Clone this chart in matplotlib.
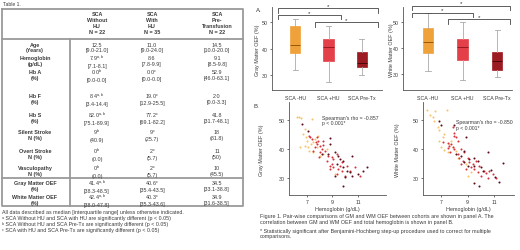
import matplotlib
matplotlib.use("Agg")
import matplotlib.pyplot as plt

plt.rcParams["font.family"] = ["Liberation Sans", "DejaVu Sans"]
plt.rcParams["mathtext.fontset"] = "custom"
plt.rcParams["mathtext.rm"] = "Liberation Sans"

W, H = 520, 251
INK = "#3a3a3a"
GRID = "#9a9a9a"
C_NOHU = "#f0a23a"; C_HU = "#e3404a"; C_PRE = "#9c1b22"
S_NOHU = "#f5c46a"; S_HU = "#d8343c"; S_PRE = "#5e0d1c"

# ---- table data ----
groups = ["SCA\nWithout\nHU\nN = 22", "SCA\nWith\nHU\nN = 35", "SCA\nPre-\nTransfusion\nN = 22"]
row_labels = ["Age\n(Years)", "Hemoglobin\n(g/dL)", "Hb A\n(%)", "Hb F\n(%)", "Hb S\n(%)",
              "Silent Stroke\nN (%)", "Overt Stroke\nN (%)", "Vasculopathy\nN (%)",
              "Gray Matter OEF\n(%)", "White Matter OEF\n(%)"]
col_nohu = ["12.5\n[9.0-21.0]", "7.9$^{\\mathrm{a,b}}$\n[7.1-8.1]", "0.0$^{\\mathrm{b}}$\n[0.0-0.0]",
            "8.4$^{\\mathrm{a,b}}$\n[3.4-14.4]", "82.0$^{\\mathrm{a,b}}$\n[75.1-89.9]",
            "9$^{\\mathrm{b}}$\n(40.9)", "0$^{\\mathrm{b}}$\n(0.0)", "0$^{\\mathrm{b}}$\n(0.0)",
            "41.4$^{\\mathrm{a,b}}$\n[38.3-48.5]", "42.4$^{\\mathrm{a,b}}$\n[38.0-47.8]"]
col_hu = ["11.0\n[9.0-24.0]", "8.6\n[7.8-9.9]", "0.0$^{\\mathrm{c}}$\n[0.0-0.0]",
          "19.0$^{\\mathrm{c}}$\n[12.9-25.5]", "77.2$^{\\mathrm{c}}$\n[69.1-82.2]",
          "9$^{\\mathrm{c}}$\n(25.7)", "2$^{\\mathrm{c}}$\n(5.7)", "2$^{\\mathrm{c}}$\n(5.7)",
          "40.6$^{\\mathrm{c}}$\n[35.4-43.5]", "40.3$^{\\mathrm{c}}$\n[35.3-43.6]"]
col_pre = ["14.5\n[10.0-20.0]", "9.1\n[8.5-9.8]", "52.9\n[46.0-63.1]", "2.0\n[0.0-3.3]",
           "41.8\n[31.7-48.1]", "18\n(81.8)", "11\n(50)", "10\n(45.5)",
           "34.5\n[33.1-38.8]", "34.9\n[31.6-38.5]"]
footnotes = ["All data described as median [interquartile range] unless otherwise indicated.",
             "\u1d43 SCA Without HU and SCA with HU are significantly different (p < 0.05)",
             "\u1d47 SCA Without HU and SCA Pre-Tx are significantly different (p < 0.05)",
             "\u1d9c SCA with HU and SCA Pre-Tx are significantly different (p < 0.05)"]

# ---- boxplot data (median, IQR from table; whiskers) ----
box_names = ["SCA -HU", "SCA +HU", "SCA Pre-Tx"]
gm_med = [41.4, 40.6, 34.5]; gm_q1 = [38.3, 35.4, 33.1]; gm_q3 = [48.5, 43.5, 38.8]
gm_lo = [32.0, 27.5, 30.0]; gm_hi = [51.2, 48.6, 43.6]
wm_med = [42.4, 40.3, 34.9]; wm_q1 = [38.0, 35.3, 31.6]; wm_q3 = [47.8, 43.6, 38.5]
wm_lo = [31.0, 27.5, 29.0]; wm_hi = [53.4, 50.0, 47.0]

# ---- scatter data (hemoglobin g/dL, OEF %) ----
gm_nohu_hb = [6.19, 6.40, 6.50, 7.37, 6.84, 6.92, 6.97, 7.10, 7.18, 7.44, 7.76, 8.02, 6.84, 9.20,
              8.28, 7.89, 7.50, 6.71, 7.63, 7.29, 8.54, 6.45]
gm_nohu_oef = [50.8, 51.0, 50.6, 50.2, 46.8, 44.0, 42.8, 40.6, 39.4, 38.9, 40.6, 37.7, 41.1, 31.5,
               38.3, 44.5, 42.3, 45.1, 43.4, 41.7, 40.0, 40.6]
gm_hu_hb = [7.24, 7.37, 7.76, 7.89, 7.81, 8.02, 7.63, 8.15, 7.50, 7.97, 8.54, 8.80, 8.93, 9.59,
            9.72, 8.80, 9.07, 7.71, 8.28, 8.41, 8.67, 9.07, 9.33, 9.46, 10.11, 10.37, 10.76,
            11.16, 9.98, 9.33, 8.28, 7.18, 8.02, 8.93, 9.72]
gm_hu_oef = [44.0, 43.4, 44.0, 42.8, 41.7, 41.1, 40.6, 40.0, 39.4, 37.2, 36.0, 33.2, 34.9, 34.3,
             32.6, 34.3, 33.8, 42.3, 41.5, 39.4, 37.7, 36.6, 38.3, 33.2, 34.3, 32.6, 33.8,
             30.9, 30.9, 31.5, 42.8, 44.5, 38.9, 37.2, 35.5]
gm_pre_hb = [6.58, 7.10, 8.80, 8.80, 8.15, 8.67, 9.20, 9.46, 9.85, 10.50, 9.33, 9.85, 10.11,
             10.37, 10.50, 11.03, 11.42, 11.73, 9.98, 9.85, 9.20, 9.59]
gm_pre_oef = [48.5, 46.0, 43.8, 41.7, 38.3, 38.3, 38.9, 37.7, 36.0, 37.7, 34.9, 33.8, 32.6,
              32.0, 30.9, 31.5, 32.4, 34.0, 30.3, 27.5, 30.9, 36.6]

wm_nohu_hb = [5.94, 6.55, 7.45, 6.19, 6.37, 6.75, 6.87, 7.13, 7.00, 7.25, 7.63, 7.75, 8.13, 8.89,
              9.01, 7.50, 7.88, 6.87, 6.50, 8.26, 7.25, 9.26]
wm_nohu_oef = [53.4, 53.2, 53.4, 51.8, 51.1, 47.5, 46.6, 44.0, 40.6, 39.7, 41.7, 42.9, 39.4, 34.8,
               30.8, 38.9, 40.6, 42.9, 49.8, 37.1, 45.2, 32.0]
wm_hu_hb = [7.13, 7.50, 7.63, 7.75, 7.55, 7.88, 8.01, 7.70, 8.26, 8.13, 8.01, 7.88, 8.38, 8.64,
            8.76, 9.14, 9.39, 9.52, 9.77, 10.02, 10.52, 10.90, 10.27, 9.64, 8.51, 8.89, 8.26,
            7.96, 8.51, 9.01, 9.26, 9.89, 10.40, 10.65, 11.15]
wm_hu_oef = [42.3, 42.0, 41.1, 41.7, 40.3, 40.8, 40.0, 38.9, 38.3, 44.0, 45.7, 47.5, 37.1, 36.0,
             38.9, 35.4, 34.8, 33.1, 32.0, 30.8, 30.2, 31.4, 32.5, 36.0, 34.8, 33.1, 42.9,
             44.6, 40.0, 37.1, 33.7, 34.3, 31.6, 32.3, 30.2]
wm_pre_hb = [6.87, 7.00, 8.01, 8.89, 8.13, 8.51, 8.76, 9.14, 9.52, 9.77, 10.52, 9.01, 9.52,
             10.02, 10.14, 10.77, 11.03, 11.40, 11.65, 9.52, 9.89, 8.76]
wm_pre_oef = [49.8, 48.4, 48.4, 44.3, 38.3, 37.7, 39.4, 36.6, 37.1, 36.0, 38.9, 34.3, 34.3,
              33.7, 32.3, 32.8, 30.5, 28.7, 35.1, 28.5, 27.4, 35.4]

FS = 3.9   # body text size


def px_axes(fig, x0, y0, x1, y1):
    return fig.add_axes([x0 / W, 1 - y1 / H, (x1 - x0) / W, (y1 - y0) / H])


def style_axes(ax):
    for s in ("top", "right"):
        ax.spines[s].set_visible(False)
    for s in ("left", "bottom"):
        ax.spines[s].set_color("#555555")
        ax.spines[s].set_linewidth(0.6)
    ax.tick_params(labelsize=3.8, colors=INK, length=1.5, width=0.5, pad=1.2)


def boxpanel(ax, med, q1, q3, lo, hi, ylim, xlim, brackets):
    colors = [C_NOHU, C_HU, C_PRE]
    meds = ["#8a4a00", "#8a1218", "#3a0508"]
    stats = [dict(med=m, q1=a, q3=b, whislo=l, whishi=h, fliers=[])
             for m, a, b, l, h in zip(med, q1, q3, lo, hi)]
    bp = ax.bxp(stats, positions=[1, 2, 3], widths=0.3, patch_artist=True, showfliers=False,
                whiskerprops=dict(color="#aaaaaa", lw=0.6), capprops=dict(color="#aaaaaa", lw=0.6),
                capwidths=0.15)
    for patch, c in zip(bp["boxes"], colors):
        patch.set_facecolor(c)
        patch.set_edgecolor(c)
        patch.set_linewidth(0.5)
    for ln, c in zip(bp["medians"], meds):
        ln.set_color(c)
        ln.set_linewidth(0.6)
    style_axes(ax)
    ax.set_ylim(*ylim)
    ax.set_xlim(*xlim)
    ax.set_yticks([30, 40, 50])
    ax.set_xticks([1, 2, 3], box_names)
    ax.tick_params(axis="x", length=0, pad=3.5, labelsize=3.8)
    for xa, xb, yb, drop in brackets:
        ax.plot([xa, xa, xb, xb], [yb - drop, yb, yb, yb - drop], color="#444444", lw=0.6,
                clip_on=False)
        ax.text((xa + xb) / 2, yb + 0.1, "*", ha="center", va="bottom", fontsize=4.5,
                color="#333333", clip_on=False)


def scatpanel(ax, pts, xlim, ylim, rho, tx, ty):
    for hb, oef, c in pts:
        ax.scatter(hb, oef, s=2.2, color=c, linewidths=0)
    style_axes(ax)
    ax.set_xlim(*xlim)
    ax.set_ylim(*ylim)
    ax.set_xticks([7, 9, 11])
    ax.set_yticks([30, 40, 50])
    ax.set_xlabel("Hemoglobin (g/dL)", fontsize=3.9, color=INK, labelpad=1.5)
    ax.text(tx, ty, f"Spearman's rho = {rho}\np < 0.001*", fontsize=3.7, color=INK,
            va="top", ha="left", linespacing=1.05)


fig = plt.figure(figsize=(W / 100, H / 100), dpi=100)
fig.patch.set_facecolor("white")

# ---- table overlay in pixel coordinates ----
tb = fig.add_axes([0, 0, 1, 1])
tb.set_xlim(0, W)
tb.set_ylim(H, 0)
tb.set_axis_off()
tb.text(3, 5, "Table 1.", fontsize=3.6, color=INK, va="center")
lw = 1.3
tb.plot([2, 243, 243, 2, 2], [10, 10, 207, 207, 10], color=GRID, lw=lw)
tb.plot([2, 243], [40, 40], color=GRID, lw=lw)
tb.plot([2, 243], [179, 179], color=GRID, lw=lw)
tb.plot([70, 70], [40, 207], color=GRID, lw=lw)

col_x = [97, 152, 217]
for cx, g in zip(col_x, groups):
    tb.text(cx, 24, g, fontsize=FS, fontweight="bold", color=INK, ha="center", va="center",
            linespacing=1.25)
row_y = [48, 61.5, 75.5, 99.5, 118.5, 135.5, 154.5, 171.5, 186.5, 200.5]
for y, lab, a, b, c in zip(row_y, row_labels, col_nohu, col_hu, col_pre):
    tb.text(35, y, lab, fontsize=FS, fontweight="bold", color=INK, ha="center", va="center",
            linespacing=1.15)
    for cx, v in zip(col_x, (a, b, c)):
        tb.text(cx, y, v, fontsize=FS, color=INK, ha="center", va="center", linespacing=1.15)
for i, t in enumerate(footnotes):
    tb.text(2, 213 + i * 5.7, t, fontsize=3.8, color=INK, va="center")

# ---- panel labels and captions ----
tb.text(256, 10, "A.", fontsize=4.3, color=INK, va="center")
tb.text(254, 107, "B.", fontsize=4.3, color=INK, va="center")
tb.text(260, 217, "Figure 1. Pair-wise comparisons of GM and WM OEF between cohorts are shown in panel A. The",
        fontsize=3.85, color=INK, va="center")
tb.text(260, 223, "correlation between GM and WM OEF and total hemoglobin is shown in panel B.",
        fontsize=3.85, color=INK, va="center")
tb.text(260, 231.5, "* Statistically significant after Benjamini-Hochberg step-up procedure used to correct for multiple",
        fontsize=3.85, color=INK, va="center")
tb.text(260, 237, "comparisons.", fontsize=3.85, color=INK, va="center")

# ---- boxplots ----
ax1 = px_axes(fig, 272, 8, 382, 91)
boxpanel(ax1, gm_med, gm_q1, gm_q3, gm_lo, gm_hi, (24.3, 55.7), (0.31, 3.6),
         [(0.49, 3.48, 55.2, 1.8), (0.49, 2.37, 52.6, 1.5), (1.6, 3.48, 50.0, 1.9)])
ax2 = px_axes(fig, 403, 8, 512, 91)
boxpanel(ax2, wm_med, wm_q1, wm_q3, wm_lo, wm_hi, (23.8, 55.8), (0.28, 3.43),
         [(0.54, 3.38, 56.3, 1.7), (0.54, 2.3, 53.6, 1.5), (1.58, 3.38, 51.0, 1.6)])
fig.text(257 / W, 1 - 50 / H, "Gray Matter OEF (%)", rotation=90, fontsize=3.9, color=INK,
         ha="center", va="center")
fig.text(391 / W, 1 - 50 / H, "White Matter OEF (%)", rotation=90, fontsize=3.9, color=INK,
         ha="center", va="center")

# ---- scatters ----
ax3 = px_axes(fig, 289, 103, 386, 196)
scatpanel(ax3, [(gm_nohu_hb, gm_nohu_oef, S_NOHU), (gm_hu_hb, gm_hu_oef, S_HU),
                (gm_pre_hb, gm_pre_oef, S_PRE)], (5.59, 13.2), (24.3, 56.0), "-0.857", 8.2, 51.6)
ax4 = px_axes(fig, 423, 103, 514, 196)
scatpanel(ax4, [(wm_nohu_hb, wm_nohu_oef, S_NOHU), (wm_hu_hb, wm_hu_oef, S_HU),
                (wm_pre_hb, wm_pre_oef, S_PRE)], (5.64, 12.5), (24.2, 56.2), "-0.850", 8.1, 50.2)
fig.text(262 / W, 1 - 150 / H, "Gray Matter OEF (%)", rotation=90, fontsize=3.9, color=INK,
         ha="center", va="center")
fig.text(397 / W, 1 - 150 / H, "White Matter OEF (%)", rotation=90, fontsize=3.9, color=INK,
         ha="center", va="center")

fig.savefig("out.png", dpi=100, facecolor="white")
